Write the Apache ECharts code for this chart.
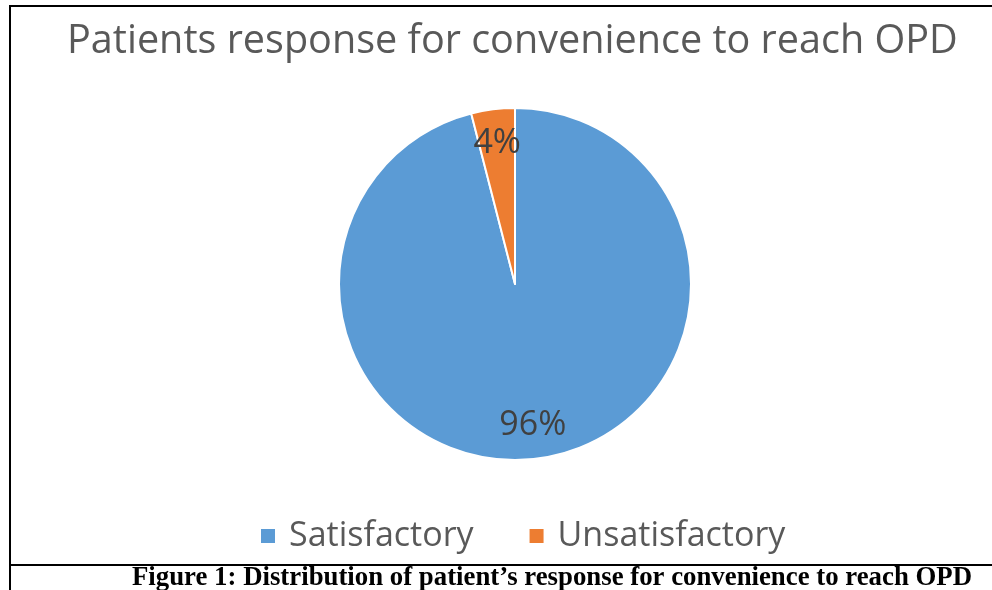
<!DOCTYPE html>
<html>
<head>
<meta charset="utf-8">
<script src="https://cdn.jsdelivr.net/npm/echarts@6/dist/echarts.min.js"></script>
<style>html,body{margin:0;padding:0;background:#fff}#c{width:992px;height:590px}</style>
</head>
<body>
<div id="c"></div>
<script>
const categories = ["Satisfactory", "Unsatisfactory"];
const values = [96, 4];
const colors = ["#5B9BD5", "#ED7D31"];
const titleText = "Patients response for convenience to reach OPD";
const captionText = "Figure 1: Distribution of patient\u2019s response for convenience to reach OPD";

const chart = echarts.init(document.getElementById('c'), null, {renderer: 'canvas'});
const data = categories.map((n, i) => ({name: n, value: values[i], itemStyle: {color: colors[i]}}));
const labelData = categories.map((n, i) => ({name: n, value: values[i]}));
const center = [515, 284];
const R = 176;

chart.setOption({
  animation: false,
  backgroundColor: '#fff',
  title: {
    text: titleText,
    left: 62, top: 17,
    textStyle: {fontFamily: 'Open Sans', fontWeight: 'normal', fontSize: 39.6, color: '#595959'}
  },
  legend: {
    data: categories,
    left: 254, top: 514,
    icon: 'rect', itemWidth: 16, itemHeight: 16, itemGap: 54,
    textStyle: {fontFamily: 'Open Sans', fontSize: 34, color: '#595959', padding: [0, 0, 0, 8]}
  },
  graphic: [
    {type: 'line', shape: {x1: 10, y1: 6, x2: 992, y2: 6}, style: {stroke: '#000', lineWidth: 2}},
    {type: 'line', shape: {x1: 10, y1: 5, x2: 10, y2: 590}, style: {stroke: '#000', lineWidth: 2}},
    {type: 'line', shape: {x1: 10, y1: 565, x2: 992, y2: 565}, style: {stroke: '#000', lineWidth: 2}},
    {type: 'text', left: 132, top: 565, style: {text: captionText, font: 'bold 26.8px "Liberation Serif", "Times New Roman", serif', fill: '#000'}}
  ],
  series: [
    {
      type: 'pie', center: center, radius: [0, R], startAngle: 90, clockwise: true,
      data: data,
      itemStyle: {borderColor: '#fff', borderWidth: 2},
      label: {show: false}, labelLine: {show: false}, silent: true
    },
    {
      type: 'pie', center: center, radius: [R * 0.58, R], startAngle: 90, clockwise: true,
      data: labelData,
      itemStyle: {color: 'rgba(0,0,0,0)', borderWidth: 0},
      label: {show: true, position: 'inside', formatter: '{d}%', fontFamily: 'Open Sans', fontSize: 34, color: '#404040'},
      labelLine: {show: false}, silent: true, legendHoverLink: false
    }
  ]
});
</script>
</body>
</html>
